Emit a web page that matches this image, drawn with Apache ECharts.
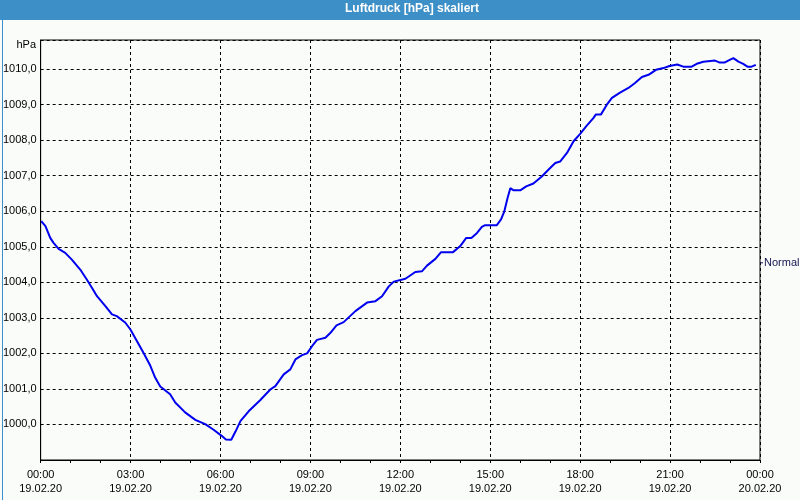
<!DOCTYPE html>
<html>
<head>
<meta charset="utf-8">
<script src="https://cdn.jsdelivr.net/npm/echarts@6/dist/echarts.min.js"></script>
<style>
html,body{margin:0;padding:0;background:#fafcfa;}
#c{width:800px;height:500px;}
</style>
</head>
<body>
<div id="c"></div>
<script>
// Time in hours since 19.02.20 00:00
var hours = [0.02,0.16,0.32,0.43,0.6,0.82,1.04,1.32,1.54,1.71,1.88,2.16,2.38,2.54,2.82,2.99,3.21,3.43,3.66,3.82,3.99,4.32,4.49,4.82,5.16,5.49,5.77,6.04,6.18,6.36,6.5,6.67,6.94,7.33,7.67,7.83,8.11,8.33,8.5,8.72,8.89,9.06,9.22,9.5,9.67,9.87,10.11,10.5,10.89,11.17,11.39,11.61,11.78,12.17,12.5,12.72,12.89,13.17,13.36,13.76,14.0,14.2,14.37,14.56,14.72,14.83,15.22,15.36,15.47,15.58,15.67,15.78,16.0,16.2,16.44,16.72,16.94,17.17,17.33,17.56,17.78,18.0,18.22,18.44,18.52,18.69,18.89,19.06,19.33,19.61,19.83,20.06,20.28,20.53,20.78,20.98,21.24,21.44,21.72,21.89,22.11,22.5,22.64,22.83,22.94,23.11,23.28,23.44,23.58,23.72,23.86];
var pressure = [1005.72,1005.58,1005.25,1005.11,1004.94,1004.83,1004.64,1004.36,1004.08,1003.85,1003.61,1003.33,1003.10,1003.05,1002.87,1002.68,1002.35,1002.02,1001.65,1001.32,1001.07,1000.85,1000.62,1000.34,1000.13,1000.01,999.85,999.68,999.58,999.57,999.8,1000.10,1000.37,1000.69,1000.99,1001.08,1001.41,1001.55,1001.83,1001.95,1002.00,1002.21,1002.38,1002.44,1002.58,1002.79,1002.88,1003.19,1003.43,1003.47,1003.61,1003.88,1004.02,1004.10,1004.29,1004.31,1004.47,1004.66,1004.85,1004.85,1005.02,1005.25,1005.25,1005.39,1005.56,1005.61,1005.61,1005.77,1006.00,1006.38,1006.65,1006.59,1006.59,1006.70,1006.78,1006.98,1007.17,1007.36,1007.40,1007.64,1007.97,1008.18,1008.41,1008.62,1008.72,1008.72,1009.00,1009.19,1009.34,1009.47,1009.61,1009.78,1009.84,1009.98,1010.03,1010.09,1010.13,1010.07,1010.07,1010.15,1010.21,1010.24,1010.19,1010.19,1010.24,1010.31,1010.21,1010.15,1010.07,1010.07,1010.12];
var xTickTimes = ['00:00','03:00','06:00','09:00','12:00','15:00','18:00','21:00','00:00'];
var xTickDates = ['19.02.20','19.02.20','19.02.20','19.02.20','19.02.20','19.02.20','19.02.20','19.02.20','20.02.20'];
var titleText = 'Luftdruck [hPa] skaliert';
var unitText = 'hPa';
var refLabel = 'Normal';
var refValue = 1004.55;

var data = hours.map(function(h,i){return [h, pressure[i]];});
var font = '"Liberation Sans", Arial, sans-serif';
var chart = echarts.init(document.getElementById('c'), null, {renderer:'canvas'});
var option = {
  backgroundColor: '#fafcfa',
  animation: false,
  grid: {left: 40, right: 40, top: 40, bottom: 40, show: true, borderColor: '#000', borderWidth: 1, backgroundColor: 'transparent'},
  xAxis: {
    type: 'value', min: 0, max: 24, interval: 3,
    axisLine: {show: true, lineStyle: {color: '#000', width: 1}},
    axisTick: {show: true, length: 3, lineStyle: {color: '#000'}},
    minorTick: {show: true, splitNumber: 3, length: 3, lineStyle: {color: '#000'}},
    splitLine: {show: true, lineStyle: {color: '#000', type: [3,3], width: 1}},
    axisLabel: {
      margin: 8, fontFamily: font, fontSize: 11, color: '#000', lineHeight: 14,
      formatter: function(v){ var i = Math.round(v/3); return xTickTimes[i] + '\n' + xTickDates[i]; }
    }
  },
  yAxis: {
    type: 'value', min: 999, max: 1010.82, interval: 1,
    axisLine: {show: true, lineStyle: {color: '#000', width: 1}},
    axisTick: {show: false},
    splitLine: {show: true, lineStyle: {color: '#000', type: [3,3], width: 1}},
    axisLabel: {
      margin: 4, fontFamily: font, fontSize: 11, color: '#000',
      formatter: function(v){
        if (Math.abs(v - Math.round(v)) > 1e-6 || v < 1000 || v > 1010) return '';
        return Math.round(v) + ',0';
      }
    }
  },
  graphic: [
    {type: 'rect', left: 0, top: 0, shape: {width: 800, height: 20}, style: {fill: '#3c8fc7'}, z: 10},
    {type: 'rect', left: 0, top: 0, shape: {width: 799, height: 499}, style: {fill: 'none', stroke: '#3c8fc7', lineWidth: 1}, z: 10},
    {type: 'text', left: 345, top: 3, style: {text: titleText, fill: '#fff', font: 'bold 12px ' + font}, z: 11},
    {type: 'text', right: 764, top: 39, style: {text: unitText, fill: '#000', font: '11px ' + font, textAlign: 'right'}, z: 11}
  ],
  series: [{
    type: 'line', data: data, showSymbol: false, symbol: 'none',
    lineStyle: {color: '#0000ee', width: 2}
  }]
};
chart.setOption(option);
var refY = chart.convertToPixel({yAxisIndex: 0}, refValue);
chart.setOption({
  graphic: [
    {type: 'line', id: 'refTick', shape: {x1: 760, y1: refY, x2: 763, y2: refY}, style: {stroke: '#141450', lineWidth: 1}, z: 11},
    {type: 'text', id: 'refText', x: 764, y: refY, style: {text: refLabel, fill: '#141450', font: '11px ' + font, textVerticalAlign: 'middle', verticalAlign: 'middle'}, z: 11}
  ]
});
</script>
</body>
</html>
